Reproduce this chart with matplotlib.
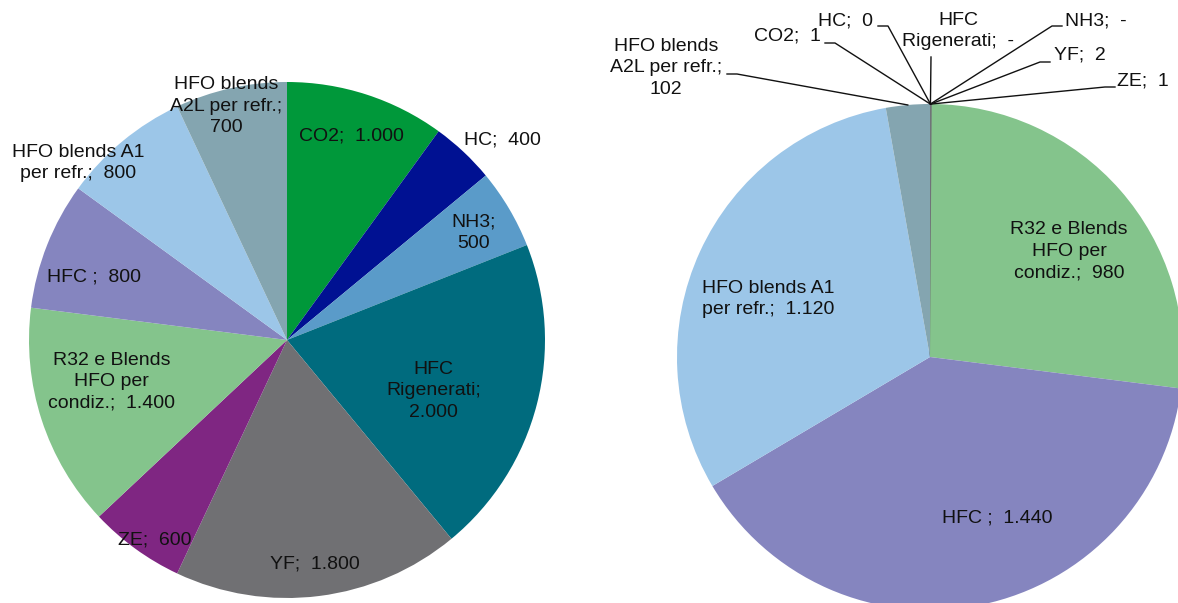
import matplotlib
matplotlib.use("Agg")
import matplotlib.pyplot as plt
import numpy as np

plt.rcParams['font.family'] = ['Liberation Sans', 'DejaVu Sans']

# ---------------- data ----------------
categories = ["CO2", "HC", "NH3", "HFC\nRigenerati", "YF", "ZE",
              "R32 e Blends\nHFO per\ncondiz.", "HFC ",
              "HFO blends A1\nper refr.", "HFO blends\nA2L per refr."]
left_values = [1000, 400, 500, 2000, 1800, 600, 1400, 800, 800, 700]
right_values = [1, 0, None, None, 2, 1, 980, 1440, 1120, 102]   # None = "-"

colors = ["#00983a", "#001192", "#5a9bc9", "#006b7e", "#707073",
          "#7f2682", "#84c48c", "#8585bf", "#9cc6e8", "#84a5b0"]

# label separators (layout)
left_sep = [";  ", ";  ", ";\n", ";\n", ";  ", ";  ", ";  ", ";  ", ";  ", ";\n"]
right_sep = [";  ", ";  ", ";  ", ";  ", ";  ", ";  ", ";  ", ";  ", ";  ", ";\n"]

# left label placement: (radial fraction, clockwise angle offset in degrees)
left_rf = [0.83, 1.14, 0.835, 0.60, 0.875, 0.93, 0.70, 0.787, 1.06, 0.937]
left_da = [-0.6, 3.9, 0.8, 4.7, 0, -2.6, 4.6, -3.5, -10.1, -2.0]

# right inside labels (only large slices)
right_rf = {6: 0.69, 7: 0.69, 8: 0.68}
right_da = {6: 4, 7: -11, 8: -5}

# right outside labels with leader lines: index -> (text x, text y, line x, line y) in px
right_out = {
    9: (666, 68, 727, 74),
    0: (787, 36, 825, 43),
    1: (845, 21, 878, 26),
    3: (958, 31, 931, 57),
    2: (1096, 21, 1062, 26),
    4: (1080, 55, 1050, 62),
    5: (1143, 81, 1115, 87),
}

W, H = 1178, 603
FS = 14
LS = 1.35
TXT = "#111111"


def fmt(v):
    if v is None:
        return "-"
    return f"{v:,}".replace(",", ".")


def P(x, y):
    return (x, H - y)


fig = plt.figure(figsize=(W / 100, H / 100), dpi=100)
ax = fig.add_axes([0, 0, 1, 1])

# ---------------- left pie ----------------
lc = P(287, 340)
lr = 258
wl, _ = ax.pie(left_values, colors=colors, startangle=90, counterclock=False,
               center=lc, radius=lr, frame=True,
               wedgeprops=dict(linewidth=0))
for i, w in enumerate(wl):
    mid = np.deg2rad((w.theta1 + w.theta2) / 2 - left_da[i])
    x = lc[0] + left_rf[i] * lr * np.cos(mid)
    y = lc[1] + left_rf[i] * lr * np.sin(mid)
    ax.text(x, y, categories[i] + left_sep[i] + fmt(left_values[i]),
            ha="center", va="center", multialignment="center",
            fontsize=FS, color=TXT, linespacing=LS)

# ---------------- right pie ----------------
rc = P(930, 357)
rr = 253
rvals = [0 if v is None else v for v in right_values]
wr, _ = ax.pie(rvals, colors=colors, startangle=90, counterclock=False,
               center=rc, radius=rr, frame=True,
               wedgeprops=dict(linewidth=0))
for i, w in enumerate(wr):
    txt = categories[i] + right_sep[i] + fmt(right_values[i])
    if i in right_rf:
        mid = np.deg2rad((w.theta1 + w.theta2) / 2 - right_da[i])
        x = rc[0] + right_rf[i] * rr * np.cos(mid)
        y = rc[1] + right_rf[i] * rr * np.sin(mid)
        ax.text(x, y, txt, ha="center", va="center", multialignment="center",
                fontsize=FS, color=TXT, linespacing=LS)
    else:
        if i != 9:
            w.set_edgecolor("#707478")
            w.set_linewidth(0.6)
        tx, ty, lx, ly = right_out[i]
        mid = np.deg2rad((w.theta1 + w.theta2) / 2)
        ex = rc[0] + rr * np.cos(mid)
        ey = rc[1] + rr * np.sin(mid)
        ax.text(*P(tx, ty), txt, ha="center", va="center",
                multialignment="center", fontsize=FS, color=TXT,
                linespacing=LS)
        sx, sy = P(lx, ly)
        if i == 3:
            ax.plot([sx, ex], [sy, ey], color=TXT, lw=1.0)
        else:
            hx = sx + (10 if ex > sx else -10)
            ax.plot([sx, hx, ex], [sy, sy, ey], color=TXT, lw=1.0)

ax.set_xlim(0, W)
ax.set_ylim(0, H)
ax.set_aspect("auto")
ax.axis("off")

fig.savefig("out.png", dpi=100, facecolor="white")
